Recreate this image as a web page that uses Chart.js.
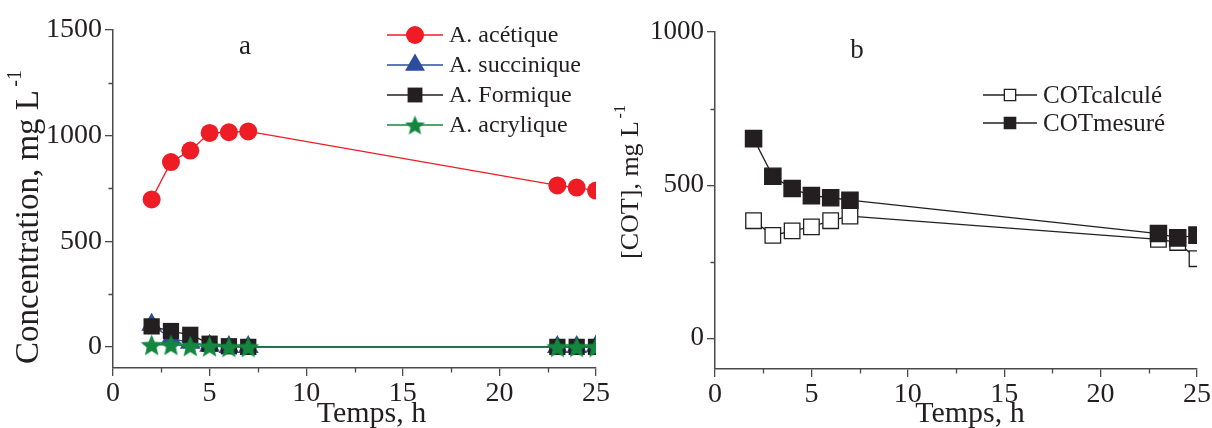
<!DOCTYPE html>
<html><head><meta charset="utf-8">
<script src="https://cdn.jsdelivr.net/npm/chart.js@4/dist/chart.umd.min.js"></script>
<style>
html,body{margin:0;padding:0;background:#fff;}
#wrap{position:relative;width:1212px;height:428px;overflow:hidden;}
.c{position:absolute;top:0;height:428px;}
</style></head><body>
<div id="wrap">
<div class="c" style="left:0;width:640px"><canvas id="ca" width="640" height="428"></canvas></div>
<div class="c" style="left:606px;width:606px"><canvas id="cb" width="606" height="428"></canvas></div>
</div>
<script>
// ---- data ----
const hours = [2, 3, 4, 5, 6, 7, 23, 24, 25];
const acideAcetique = [698, 875, 929, 1013, 1016, 1020, 764, 754, 740];
const acideSuccinique = [105, 40, 20, 5, 0, 0, 0, 0, 3];
const acideFormique = [97, 75, 57, 15, 3, 0, 0, 0, 0];
const acideAcrylique = [10, 10, 5, 3, 0, 0, 0, 0, 0];
const cotCalcule = [384, 336, 351, 364, 384, 399, 323, 313, 260];
const cotMesure = [652, 529, 489, 466, 459, 451, 342, 328, 337];

const seriesLabelsA = ['A. acétique', 'A. succinique', 'A. Formique', 'A. acrylique'];
const seriesLabelsB = ['COTcalculé', 'COTmesuré'];
const xTicks = [0, 5, 10, 15, 20, 25];
const xMinorTicks = [2.5, 7.5, 12.5, 17.5, 22.5];
const yTicksA = [0, 500, 1000, 1500];
const yMinorTicksA = [250, 750, 1250];
const yTicksB = [0, 500, 1000];
const yMinorTicksB = [250, 750];

// ---- styles ----
const FONT = "'Liberation Serif','Times New Roman',serif";
const INK = '#231F20';
const AXIS = '#4a4a4a';
const RED = '#EE1C25';
const BLUE = '#2E4C9F';
const BLACK = '#231F20';
const GREEN = '#13873F';

function starImage(size, color) {
  const c = document.createElement('canvas');
  c.width = size; c.height = size;
  const g = c.getContext('2d');
  const R = size / 2, r = R * 0.45, cx = size / 2, cy = size / 2 + size * 0.05;
  g.beginPath();
  for (let i = 0; i < 10; i++) {
    const rad = (i % 2 === 0) ? R : r;
    const a = -Math.PI / 2 + i * Math.PI / 5;
    const px = cx + rad * Math.cos(a), py = cy + rad * Math.sin(a);
    if (i === 0) g.moveTo(px, py); else g.lineTo(px, py);
  }
  g.closePath();
  g.fillStyle = color;
  g.fill();
  return c;
}
const starPlot = starImage(23, GREEN);
const starLegend = starImage(21, GREEN);

const pts = (ys) => hours.map((h, i) => ({x: h, y: ys[i]}));

function minorTicksPlugin(xMinor, yMinor) {
  return {
    id: 'minorTicks',
    afterDraw(chart) {
      const ctx = chart.ctx, xs = chart.scales.x, ys = chart.scales.y;
      const a = chart.chartArea;
      ctx.save();
      ctx.strokeStyle = AXIS; ctx.lineWidth = 1.3;
      ctx.beginPath();
      xMinor.forEach(v => { const p = Math.round(xs.getPixelForValue(v)) + 0.5; ctx.moveTo(p, a.bottom); ctx.lineTo(p, a.bottom + 4.5); });
      yMinor.forEach(v => { const p = Math.round(ys.getPixelForValue(v)) + 0.5; ctx.moveTo(a.left, p); ctx.lineTo(a.left - 4.5, p); });
      ctx.stroke();
      ctx.restore();
    }
  };
}

function textPlugin(cfg) {
  return {
    id: 'texts',
    afterDraw(chart) {
      const ctx = chart.ctx, a = chart.chartArea;
      ctx.save();
      ctx.fillStyle = INK;
      // x title
      ctx.font = '30px ' + FONT;
      ctx.textAlign = 'center';
      ctx.textBaseline = 'alphabetic';
      ctx.fillText('Temps, h', (a.left + a.right) / 2 + cfg.xTitleShift, 422);
      // y title rotated with superscript
      const fs = cfg.yTitleSize, ss = Math.round(fs * 0.6);
      ctx.save();
      ctx.translate(cfg.yTitleX, cfg.yTitleY);
      ctx.rotate(-Math.PI / 2);
      ctx.font = fs + 'px ' + FONT;
      const w = ctx.measureText(cfg.yTitle).width;
      ctx.font = ss + 'px ' + FONT;
      const ws = ctx.measureText('-1').width;
      const gap = fs * 0.1;
      const start = -(w + ws + gap) / 2;
      ctx.textAlign = 'left';
      ctx.textBaseline = 'middle';
      ctx.font = fs + 'px ' + FONT;
      ctx.fillText(cfg.yTitle, start, 0);
      ctx.font = ss + 'px ' + FONT;
      ctx.fillText('-1', start + w + gap, -fs * 0.4);
      ctx.restore();
      // panel label
      ctx.font = '27px ' + FONT;
      ctx.textAlign = 'center';
      ctx.textBaseline = 'middle';
      ctx.fillText(cfg.panel, cfg.panelX, cfg.panelY);
      // legend
      const L = cfg.legend;
      chart.data.datasets.forEach((ds, i) => {
        const y = L.y0 + i * L.dy;
        ctx.strokeStyle = ds.borderColor; ctx.lineWidth = 1.4;
        ctx.beginPath(); ctx.moveTo(L.x1, y); ctx.lineTo(L.x2, y); ctx.stroke();
        ctx.fillStyle = ds.pointBackgroundColor;
        ctx.strokeStyle = ds.pointBorderColor;
        ctx.lineWidth = ds.pointBorderWidth;
        Chart.helpers.drawPoint(ctx, {pointStyle: L.styles[i], radius: L.radii[i], rotation: 0, borderWidth: ds.pointBorderWidth}, (L.x1 + L.x2) / 2, y);
        ctx.fillStyle = INK;
        ctx.font = L.font + 'px ' + FONT;
        ctx.textAlign = 'left';
        ctx.textBaseline = 'middle';
        ctx.fillText(ds.label, L.tx, y + 1);
      });
      ctx.restore();
    }
  };
}

function scalesCfg(yMin, yMax, yTicks, yWidth, xHeight, yFont) {
  const fix = (w, h) => (s) => {
    if (w !== null) s.width = w;
    if (h !== null) s.height = h;
    s.paddingLeft = 0; s.paddingRight = 0; s.paddingTop = 0; s.paddingBottom = 0;
  };
  const plain = (v) => String(v);
  return {
    x: {
      type: 'linear', min: 0, max: 25,
      afterBuildTicks: (s) => { s.ticks = xTicks.map(v => ({value: v})); },
      afterFit: fix(null, xHeight),
      grid: {display: true, drawOnChartArea: false, drawTicks: true, tickLength: 8, color: AXIS, lineWidth: 1.3},
      border: {display: true, color: AXIS, width: 1.5},
      ticks: {color: INK, font: {family: FONT, size: 28}, padding: 1, maxRotation: 0, autoSkip: false, callback: plain}
    },
    y: {
      type: 'linear', min: yMin, max: yMax,
      afterBuildTicks: (s) => { s.ticks = yTicks.map(v => ({value: v})); },
      afterFit: fix(yWidth, null),
      grid: {display: true, drawOnChartArea: false, drawTicks: true, tickLength: 8, color: AXIS, lineWidth: 1.3},
      border: {display: true, color: AXIS, width: 1.5},
      ticks: {color: INK, font: {family: FONT, size: yFont}, padding: 3, callback: plain}
    }
  };
}

const baseOpts = {
  responsive: false,
  animation: false,
  devicePixelRatio: 1,
  plugins: {legend: {display: false}, tooltip: {enabled: false}},
  elements: {line: {tension: 0}}
};

// ---- chart a ----
new Chart(document.getElementById('ca'), {
  type: 'line',
  data: {
    datasets: [
      {label: seriesLabelsA[0], data: pts(acideAcetique), borderColor: RED, borderWidth: 1.3, pointStyle: 'circle', pointRadius: 9, pointBackgroundColor: RED, pointBorderColor: RED, pointBorderWidth: 0, order: 3},
      {label: seriesLabelsA[1], data: pts(acideSuccinique), borderColor: BLUE, borderWidth: 1.3, pointStyle: 'triangle', pointRadius: 12, pointBackgroundColor: BLUE, pointBorderColor: BLUE, pointBorderWidth: 0, order: 2},
      {label: seriesLabelsA[2], data: pts(acideFormique), borderColor: BLACK, borderWidth: 1.3, pointStyle: 'rect', pointRadius: 11.5, pointBackgroundColor: BLACK, pointBorderColor: BLACK, pointBorderWidth: 0, order: 1},
      {label: seriesLabelsA[3], data: pts(acideAcrylique), borderColor: GREEN, borderWidth: 1.3, pointStyle: starPlot, pointRadius: 11, pointBackgroundColor: GREEN, pointBorderColor: GREEN, pointBorderWidth: 0, order: 0}
    ]
  },
  options: Object.assign({}, baseOpts, {
    layout: {padding: {left: 0, top: 30, right: 44, bottom: 0}},
    scales: scalesCfg(-100, 1500, yTicksA, 113, 60, 28)
  }),
  plugins: [minorTicksPlugin(xMinorTicks, yMinorTicksA), textPlugin({
    xTitleShift: 17, yTitle: 'Concentration, mg L', yTitleSize: 33, yTitleX: 29, yTitleY: 217,
    panel: 'a', panelX: 245, panelY: 47,
    legend: {x1: 387, x2: 443, tx: 449, y0: 35, dy: 30, font: 24,
      styles: ['circle', 'triangle', 'rect', starLegend], radii: [9, 11.5, 10.5, 10]}
  })]
});

// ---- chart b ----
new Chart(document.getElementById('cb'), {
  type: 'line',
  data: {
    datasets: [
      {label: seriesLabelsB[0], data: pts(cotCalcule), borderColor: BLACK, borderWidth: 1.3, pointStyle: 'rect', pointRadius: 11, pointBackgroundColor: '#ffffff', pointBorderColor: BLACK, pointBorderWidth: 1.3, order: 1},
      {label: seriesLabelsB[1], data: pts(cotMesure), borderColor: BLACK, borderWidth: 1.3, pointStyle: 'rect', pointRadius: 11.5, pointBackgroundColor: BLACK, pointBorderColor: BLACK, pointBorderWidth: 1.3, order: 0}
    ]
  },
  options: Object.assign({}, baseOpts, {
    layout: {padding: {left: 0, top: 32, right: 15, bottom: 0}},
    scales: scalesCfg(-100, 1000, yTicksB, 109, 59, 27)
  }),
  plugins: [minorTicksPlugin(xMinorTicks, yMinorTicksB), textPlugin({
    xTitleShift: 14, yTitle: '[COT], mg L', yTitleSize: 26, yTitleX: 25, yTitleY: 182,
    panel: 'b', panelX: 251, panelY: 51,
    legend: {x1: 377, x2: 431, tx: 437, y0: 95, dy: 28, font: 25,
      styles: ['rect', 'rect'], radii: [8, 8]}
  })]
});
</script>
</body></html>
